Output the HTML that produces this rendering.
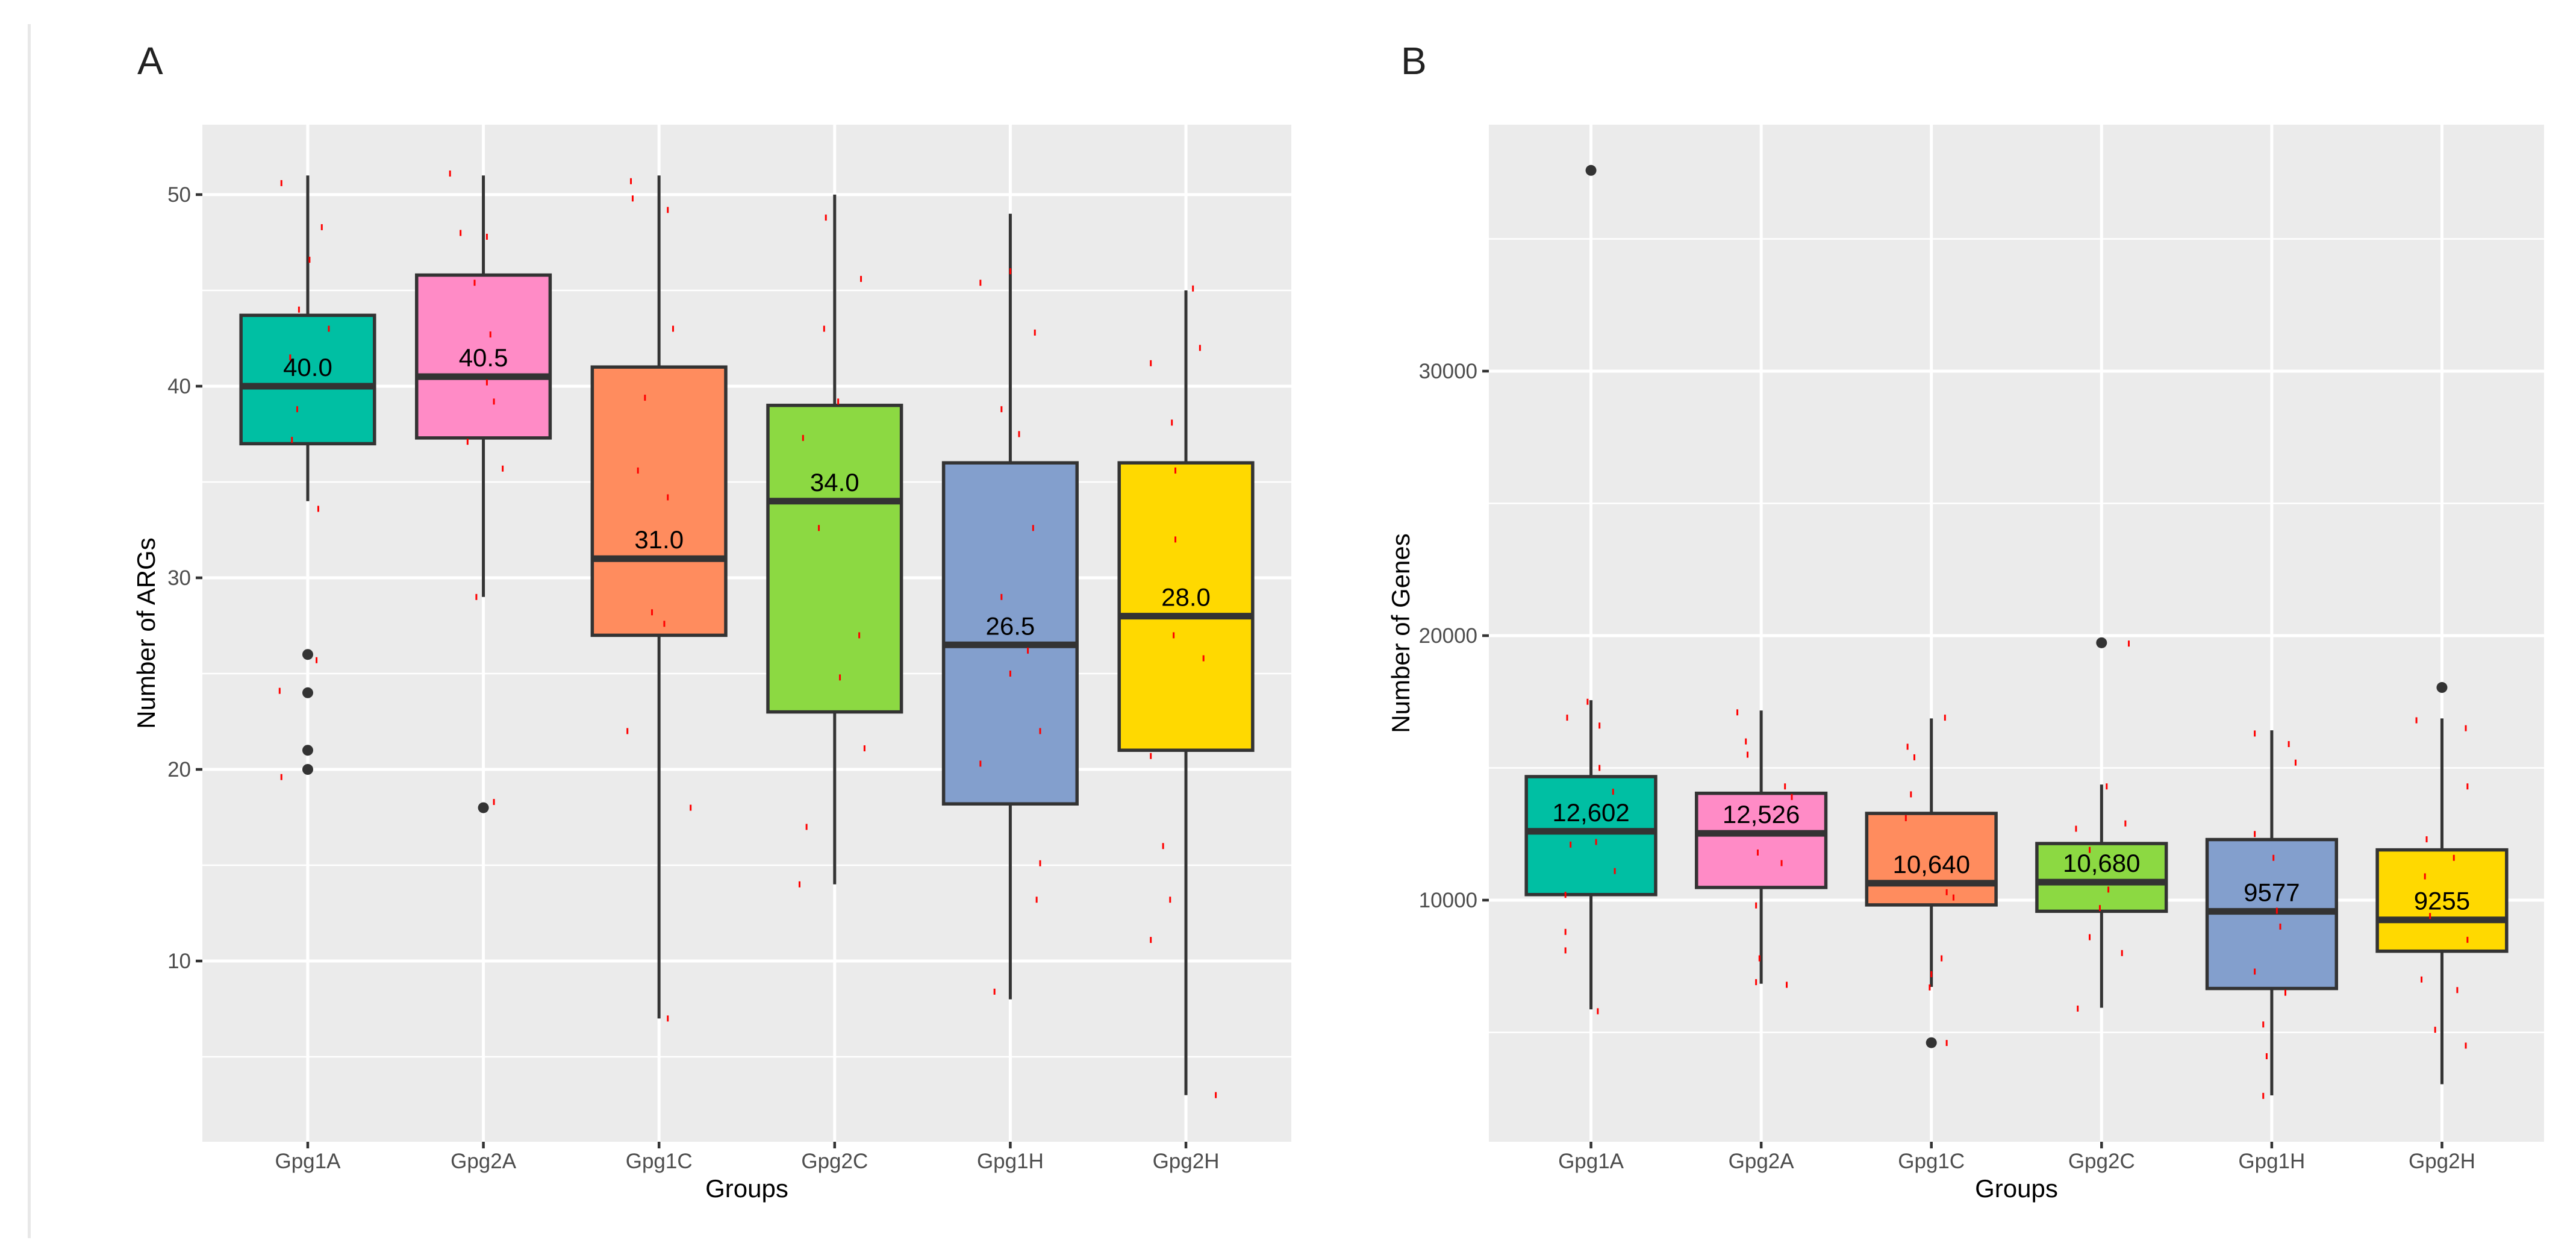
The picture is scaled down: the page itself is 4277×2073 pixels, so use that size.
<!DOCTYPE html>
<html><head><meta charset="utf-8"><style>
html,body{margin:0;padding:0;background:#fff;}
svg{display:block;font-family:"Liberation Sans",Arial,sans-serif;}
</style></head><body>
<svg id="fig" width="4277" height="2073" viewBox="0 0 4277 2073" xmlns="http://www.w3.org/2000/svg">
<rect x="46" y="40" width="5" height="2015" fill="#e8e8e8"/>
</svg>
<script>
const groups = ["Gpg1A","Gpg2A","Gpg1C","Gpg2C","Gpg1H","Gpg2H"];
const colors = ["#00BFA3","#FF8BC6","#FF8C5E","#8CD942","#839FCD","#FFD900"];
// Panel A: Number of ARGs
const aLow = [34, 29, 7, 14, 8, 3];
const aQ1 = [37, 37.3, 27, 23, 18.2, 21];
const aMed = [40, 40.5, 31, 34, 26.5, 28];
const aQ3 = [43.7, 45.8, 41, 39, 36, 36];
const aHigh = [51, 51, 51, 50, 49, 45];
const aLabels = ["40.0","40.5","31.0","34.0","26.5","28.0"];
const aOutGroup = [0,0,0,0,1];
const aOutVal = [26,24,21,20,18];
const aTicks = [10,20,30,40,50];
const aJitGroup = [0,0,0,0,0,0,0,0,0,0,0,0,1,1,1,1,1,1,1,1,1,1,1,2,2,2,2,2,2,2,2,2,2,2,2,3,3,3,3,3,3,3,3,3,3,3,4,4,4,4,4,4,4,4,4,4,4,4,4,4,5,5,5,5,5,5,5,5,5,5,5,5,5,5];
const aJitVal = [50.6,48.3,46.6,44,43,41.5,38.8,37.2,33.6,25.7,24.1,19.6,51.1,48,47.8,45.4,42.7,40.2,39.2,37.1,35.7,29,18.3,50.7,49.2,43,39.4,35.6,34.2,28.2,27.6,22,18,7,49.8,45.6,43,39.2,37.3,32.6,27,24.8,21.1,17,14,48.8,46,42.8,38.8,37.5,32.6,29,26.2,25,22,20.3,15.1,13.2,8.4,45.4,45.1,42,41.2,38.1,35.6,32,27,25.8,20.7,16,13.2,11.1,3];
const aJitDx = [-0.15,0.08,0.01,-0.05,0.12,-0.1,-0.06,-0.09,0.06,0.05,-0.16,-0.15,-0.19,-0.13,0.02,-0.05,0.04,0.02,0.06,-0.09,0.11,-0.04,0.06,-0.16,0.05,0.08,-0.08,-0.12,0.05,-0.04,0.03,-0.18,0.18,0.05,-0.15,0.15,-0.06,0.02,-0.18,-0.09,0.14,0.03,0.17,-0.16,-0.2,-0.05,0,0.14,-0.05,0.05,0.13,-0.05,0.1,0,0.17,-0.17,0.17,0.15,-0.09,-0.17,0.04,0.08,-0.2,-0.08,-0.06,-0.06,-0.07,0.1,-0.2,-0.13,-0.09,-0.2,0.17];
// Panel B: Number of Genes
const bLow = [5870, 6840, 6720, 5930, 2620, 3040];
const bQ1 = [10210, 10480, 9820, 9580, 6660, 8070];
const bMed = [12602, 12526, 10640, 10680, 9577, 9255];
const bQ3 = [14670, 14040, 13280, 12140, 12290, 11900];
const bHigh = [17560, 17170, 16870, 14370, 16420, 16870];
const bLabels = ["12,602","12,526","10,640","10,680","9577","9255"];
const bOutGroup = [0,2,3,5];
const bOutVal = [37590, 4610, 19730, 18040];
const bTicks = [10000,20000,30000];
const bJitGroup = [0,0,0,0,0,0,0,0,0,0,0,0,1,1,1,1,1,1,1,1,1,1,1,2,2,2,2,2,2,2,2,2,2,2,3,3,3,3,3,3,3,3,3,3,4,4,4,4,4,4,4,4,4,4,4,4,5,5,5,5,5,5,5,5,5,5,5,5];
const bJitVal = [17500,16900,16600,15000,14100,12200,12100,11100,10200,8800,8100,5800,17100,16000,15500,14300,13900,11800,11400,9800,7800,6900,6800,16900,15800,15400,14000,13100,10300,10100,7800,7200,6700,4600,19700,14300,12700,11900,10400,9700,8600,5900,8000,12900,16300,15900,15200,12500,11600,9600,9000,7300,6500,5300,4100,2600,16800,16500,14300,12300,11600,10900,9400,8500,7000,6600,5100,4500];
const bJitDx = [-0.02,-0.14,0.05,0.05,0.13,0.03,-0.12,0.14,-0.15,-0.15,-0.15,0.04,-0.14,-0.09,-0.08,0.14,0.18,-0.02,0.12,-0.03,-0.01,-0.03,0.15,0.08,-0.14,-0.1,-0.12,-0.15,0.09,0.13,0.06,0,-0.01,0.09,0.16,0.03,-0.15,-0.07,0.04,-0.01,-0.07,-0.14,0.12,0.14,-0.1,0.1,0.14,-0.1,0.01,0.03,0.05,-0.1,0.08,-0.05,-0.03,-0.05,-0.15,0.14,0.15,-0.09,0.07,-0.1,-0.07,0.15,-0.12,0.09,-0.04,0.14];

const NS = "http://www.w3.org/2000/svg";
const svg = document.getElementById("fig");
function mk(tag, attrs, parent){
  const e = document.createElementNS(NS, tag);
  for (const k in attrs) e.setAttribute(k, attrs[k]);
  (parent||svg).appendChild(e);
  return e;
}

function panel(cfg){
  const {left,right,top,bottom,ymin,ymax,minorStep,ticks,low,q1,med,q3,high,labels,outG,outV,jg,jv,jdx,letter,letterX,ytitle,ytitleX,tickFmt,prefix} = cfg;
  const n = groups.length;
  const step = (right-left)/(n+0.2);
  const xs = i => left + step*(0.6+i);
  const ys = v => bottom - (v-ymin)/(ymax-ymin)*(bottom-top);
  const g = mk("g", {});
  
  
  const bg = mk("rect", {x:left,y:top,width:right-left,height:bottom-top,fill:"#EBEBEB"}, g);
  
  
  for (let v = Math.ceil(ymin/minorStep)*minorStep; v <= ymax; v += minorStep){
    if (ticks.indexOf(v) >= 0) continue;
    const l = mk("line", {x1:left,x2:right,y1:ys(v),y2:ys(v),stroke:"#fff","stroke-width":2.5}, g);
    
    
  }
  ticks.forEach(v => {
    const l = mk("line", {x1:left,x2:right,y1:ys(v),y2:ys(v),stroke:"#fff","stroke-width":5}, g);
    
    
    const t = mk("line", {x1:left-11,x2:left,y1:ys(v),y2:ys(v),stroke:"#333","stroke-width":4.5}, g);
    
    
    const tx = mk("text", {x:left-19,y:ys(v)+12,"text-anchor":"end","font-size":35,fill:"#4d4d4d"}, g);
    tx.textContent = tickFmt(v);
    
    
  });
  groups.forEach((name,i) => {
    const x = xs(i);
    const l = mk("line", {x1:x,x2:x,y1:top,y2:bottom,stroke:"#fff","stroke-width":5}, g);
    
    
    const t = mk("line", {x1:x,x2:x,y1:bottom,y2:bottom+11,stroke:"#333","stroke-width":4.5}, g);
    
    
    const tx = mk("text", {x:x,y:bottom+44,"text-anchor":"middle","font-size":35,fill:"#4d4d4d"}, g);
    tx.textContent = name;
    
    
  });
  const bw = step*0.76;
  groups.forEach((name,i) => {
    const x = xs(i);
    const w = mk("line", {x1:x,x2:x,y1:ys(high[i]),y2:ys(low[i]),stroke:"#333","stroke-width":5}, g);
    
    
    const b = mk("rect", {x:x-bw/2,y:ys(q3[i]),width:bw,height:ys(q1[i])-ys(q3[i]),fill:colors[i],stroke:"#333","stroke-width":5.5}, g);
    
    
    const m = mk("line", {x1:x-bw/2,x2:x+bw/2,y1:ys(med[i]),y2:ys(med[i]),stroke:"#333","stroke-width":11}, g);
    
    
  });
  outG.forEach((gi,k) => {
    const c = mk("circle", {cx:xs(gi),cy:ys(outV[k]),r:9,fill:"#333"}, g);
    
    
  });
  jg.forEach((gi,k) => {
    const v = jv[k];
    if (v === undefined) return;
    const d = (jdx[k] === undefined) ? 0 : jdx[k];
    const px = xs(gi)+d*step-1.5, py = ys(v)-5;
    if (!isFinite(px) || !isFinite(py)) return;
    const r = mk("rect", {x:px,y:py,width:3,height:10,fill:"#ff0000"}, g);
    
    
  });
  groups.forEach((name,i) => {
    const tx = mk("text", {x:xs(i),y:ys(med[i])-17,"text-anchor":"middle","font-size":42,fill:"#000"}, g);
    tx.textContent = labels[i];
    
    
  });
  const L = mk("text", {x:letterX,y:123,"font-size":64,fill:"#222"}, g);
  L.textContent = letter;
  
  
  const cy = (top+bottom)/2;
  const yt = mk("text", {x:ytitleX,y:cy,"text-anchor":"middle","font-size":42,fill:"#000",transform:"rotate(-90 "+ytitleX+" "+cy+")"}, g);
  yt.textContent = ytitle;
  
  
  const xt = mk("text", {x:(left+right)/2,y:1987,"text-anchor":"middle","font-size":42,fill:"#000"}, g);
  xt.textContent = "Groups";
  
  
}

panel({left:336,right:2144,top:207,bottom:1895,
  ymin:20-(1895-1277)/31.8, ymax:20+(1277-207)/31.8, minorStep:5, ticks:aTicks,
  low:aLow,q1:aQ1,med:aMed,q3:aQ3,high:aHigh,labels:aLabels,outG:aOutGroup,outV:aOutVal,
  jg:aJitGroup,jv:aJitVal,jdx:aJitDx,letter:"A",letterX:228,ytitle:"Number of ARGs",ytitleX:257,
  tickFmt:v=>String(v),prefix:"args"});
panel({left:2472,right:4224,top:207,bottom:1895,
  ymin:10000-(1895-1494)/0.0439, ymax:10000+(1494-207)/0.0439, minorStep:5000, ticks:bTicks,
  low:bLow,q1:bQ1,med:bMed,q3:bQ3,high:bHigh,labels:bLabels,outG:bOutGroup,outV:bOutVal,
  jg:bJitGroup,jv:bJitVal,jdx:bJitDx,letter:"B",letterX:2326,ytitle:"Number of Genes",ytitleX:2340,
  tickFmt:v=>String(v),prefix:"genes"});
</script>
</body></html>
